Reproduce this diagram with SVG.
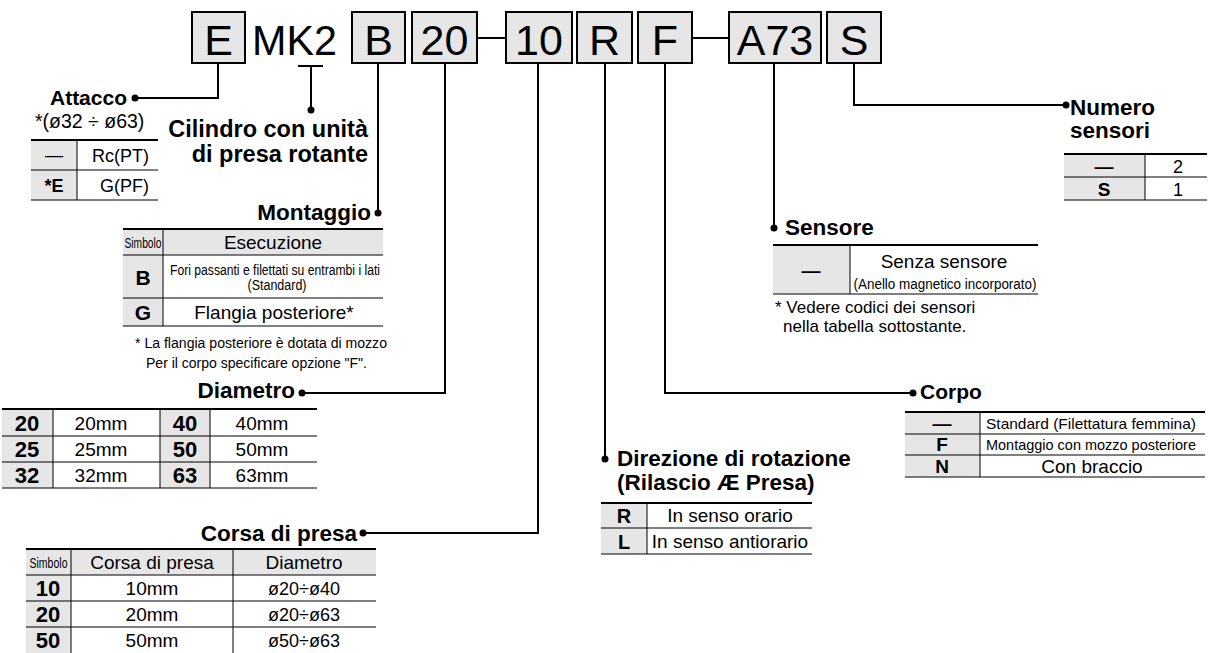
<svg xmlns="http://www.w3.org/2000/svg" width="1209" height="653" viewBox="0 0 1209 653">
<style>
text{font-family:"Liberation Sans",Arial,sans-serif;fill:#000}
.hb{fill:#e6e6e6;stroke:#000;stroke-width:2}
.ht{font-size:43px;text-anchor:middle}
.lab{font-size:22.5px;font-weight:bold}
.ttl{font-size:23.5px;font-weight:bold}
.g{fill:#e6e6e6}
.l1{stroke:#000;stroke-width:1;fill:none}
.l2{stroke:#000;stroke-width:2;fill:none}
.c{text-anchor:middle}
.e{text-anchor:end}
.b{font-weight:bold;font-size:21px;text-anchor:middle}
.t19{font-size:19px}
.t18{font-size:18px}
.t17{font-size:17px}
.t14{font-size:14px}
.t13{font-size:13px}
.t11{font-size:11px}
.con{stroke:#000;stroke-width:2;fill:none}
.dot{fill:#000}
</style>

<g id="header">
  <rect class="hb" x="192" y="12" width="53" height="51"/><text class="ht" x="218.5" y="55">E</text>
  <text class="ht" x="294.5" y="55" textLength="85" lengthAdjust="spacingAndGlyphs">MK2</text>
  <rect class="hb" x="352" y="12" width="53" height="51"/><text class="ht" x="378.5" y="55">B</text>
  <rect class="hb" x="412" y="12" width="65" height="51"/><text class="ht" x="444.5" y="55">20</text>
  <rect class="hb" x="506" y="12" width="66" height="51"/><text class="ht" x="539" y="55">10</text>
  <rect class="hb" x="577" y="12" width="55" height="51"/><text class="ht" x="604.5" y="55">R</text>
  <rect class="hb" x="638" y="12" width="54" height="51"/><text class="ht" x="665" y="55">F</text>
  <rect class="hb" x="729" y="12" width="92" height="51"/><text class="ht" x="775" y="55">A73</text>
  <rect class="hb" x="827" y="12" width="54" height="51"/><text class="ht" x="854" y="55">S</text>
</g>

<g id="connectors">
  <line class="con" x1="477" y1="38" x2="506" y2="38"/>
  <line class="con" x1="692" y1="38" x2="729" y2="38"/>
  <polyline class="con" points="218,63 218,98 135,98"/>
  <circle class="dot" cx="135" cy="98" r="3.5"/>
  <line class="con" x1="298" y1="66" x2="323" y2="66"/>
  <line class="con" x1="311" y1="66" x2="311" y2="110"/>
  <circle class="dot" cx="311" cy="110" r="3.5"/>
  <line class="con" x1="378" y1="63" x2="378" y2="213"/>
  <circle class="dot" cx="378" cy="213" r="3.5"/>
  <polyline class="con" points="445,63 445,393 302,393"/>
  <circle class="dot" cx="302" cy="393" r="3.5"/>
  <polyline class="con" points="538,63 538,533 363,533"/>
  <circle class="dot" cx="363" cy="533" r="3.5"/>
  <line class="con" x1="605" y1="63" x2="605" y2="459"/>
  <circle class="dot" cx="605" cy="459" r="3.5"/>
  <polyline class="con" points="665,63 665,393 913,393"/>
  <circle class="dot" cx="913" cy="393" r="3.5"/>
  <line class="con" x1="774" y1="63" x2="774" y2="228"/>
  <circle class="dot" cx="774" cy="228" r="3.5"/>
  <polyline class="con" points="854,63 854,105 1066,105"/>
  <circle class="dot" cx="1066" cy="105" r="3.5"/>
</g>

<g id="attacco">
  <text class="lab e" x="127" y="105" style="font-size:21px">Attacco</text>
  <text class="t19" x="35" y="128" style="font-size:19.5px">*(ø32 ÷ ø63)</text>
  <rect class="g" x="31" y="140" width="46" height="60"/>
  <line class="l2" x1="31" y1="140" x2="158" y2="140"/>
  <line class="l1" x1="31" y1="170" x2="158" y2="170"/>
  <line class="l1" x1="31" y1="200" x2="158" y2="200"/>
  <line class="l1" x1="77" y1="140" x2="77" y2="200"/>
  <text class="t18 c" x="54" y="161">—</text>
  <text class="t18 e" x="149" y="162">Rc(PT)</text>
  <text class="b" x="54" y="192" style="font-size:18px">*E</text>
  <text class="t18 e" x="149" y="192">G(PF)</text>
</g>

<g id="cilindro">
  <text class="ttl e" x="368" y="137">Cilindro con unità</text>
  <text class="ttl e" x="368" y="162">di presa rotante</text>
</g>

<g id="montaggio">
  <text class="lab e" x="371" y="220">Montaggio</text>
  <rect class="g" x="123" y="229" width="260" height="26"/>
  <rect class="g" x="123" y="255" width="40" height="71"/>
  <line class="l2" x1="123" y1="229" x2="383" y2="229"/>
  <line class="l1" x1="123" y1="255" x2="383" y2="255"/>
  <line class="l1" x1="123" y1="298" x2="383" y2="298"/>
  <line class="l1" x1="123" y1="326" x2="383" y2="326"/>
  <line class="l1" x1="163" y1="229" x2="163" y2="326"/>
  <text class="t14 c" x="143" y="248" textLength="37" lengthAdjust="spacingAndGlyphs">Simbolo</text>
  <text class="t19 c" x="273" y="249">Esecuzione</text>
  <text class="b" x="143" y="285">B</text>
  <text class="t14 c" x="275" y="275" textLength="210" lengthAdjust="spacingAndGlyphs">Fori passanti e filettati su entrambi i lati</text>
  <text class="t14 c" x="277" y="290" textLength="59" lengthAdjust="spacingAndGlyphs">(Standard)</text>
  <text class="b" x="143" y="320">G</text>
  <text class="t19 c" x="274" y="319">Flangia posteriore*</text>
  <text class="t14" x="135" y="348" textLength="252" lengthAdjust="spacingAndGlyphs">* La flangia posteriore è dotata di mozzo</text>
  <text class="t14" x="146" y="368" textLength="221" lengthAdjust="spacingAndGlyphs">Per il corpo specificare opzione "F".</text>
</g>

<g id="diametro">
  <text class="lab e" x="295" y="398">Diametro</text>
  <rect class="g" x="2" y="409" width="51" height="79"/>
  <rect class="g" x="160" y="409" width="50" height="79"/>
  <line class="l2" x1="2" y1="409" x2="317" y2="409"/>
  <line class="l1" x1="2" y1="436" x2="317" y2="436"/>
  <line class="l1" x1="2" y1="462" x2="317" y2="462"/>
  <line class="l1" x1="2" y1="488" x2="317" y2="488"/>
  <line class="l1" x1="53" y1="409" x2="53" y2="488"/>
  <line class="l1" x1="160" y1="409" x2="160" y2="488"/>
  <line class="l1" x1="210" y1="409" x2="210" y2="488"/>
  <text class="b" x="27" y="431" style="font-size:22px">20</text><text class="t19 c" x="101" y="430">20mm</text>
  <text class="b" x="185" y="431" style="font-size:22px">40</text><text class="t19 c" x="262" y="430">40mm</text>
  <text class="b" x="27" y="457" style="font-size:22px">25</text><text class="t19 c" x="101" y="456">25mm</text>
  <text class="b" x="185" y="457" style="font-size:22px">50</text><text class="t19 c" x="262" y="456">50mm</text>
  <text class="b" x="27" y="483" style="font-size:22px">32</text><text class="t19 c" x="101" y="482">32mm</text>
  <text class="b" x="185" y="483" style="font-size:22px">63</text><text class="t19 c" x="262" y="482">63mm</text>
</g>

<g id="corsa">
  <text class="lab e" x="357" y="541">Corsa di presa</text>
  <rect class="g" x="26" y="549" width="350" height="26"/>
  <rect class="g" x="26" y="575" width="45" height="78"/>
  <line class="l2" x1="26" y1="549" x2="376" y2="549"/>
  <line class="l1" x1="26" y1="575" x2="376" y2="575"/>
  <line class="l1" x1="26" y1="601" x2="376" y2="601"/>
  <line class="l1" x1="26" y1="627" x2="376" y2="627"/>
  <line class="l1" x1="71" y1="549" x2="71" y2="653"/>
  <line class="l1" x1="233" y1="549" x2="233" y2="653"/>
  <text class="t14 c" x="48.5" y="568" textLength="38" lengthAdjust="spacingAndGlyphs">Simbolo</text>
  <text class="t19 c" x="152" y="569">Corsa di presa</text>
  <text class="t19 c" x="304" y="569">Diametro</text>
  <text class="b" x="48" y="596" style="font-size:22px">10</text><text class="t19 c" x="152" y="595">10mm</text><text class="t18 c" x="304" y="595">ø20÷ø40</text>
  <text class="b" x="48" y="622" style="font-size:22px">20</text><text class="t19 c" x="152" y="621">20mm</text><text class="t18 c" x="304" y="621">ø20÷ø63</text>
  <text class="b" x="48" y="648" style="font-size:22px">50</text><text class="t19 c" x="152" y="647">50mm</text><text class="t18 c" x="304" y="647">ø50÷ø63</text>
</g>

<g id="direzione">
  <text class="lab" x="617" y="466">Direzione di rotazione</text>
  <text class="lab" x="617" y="490">(Rilascio Æ Presa)</text>
  <rect class="g" x="601" y="503" width="46" height="51"/>
  <line class="l2" x1="601" y1="503" x2="812" y2="503"/>
  <line class="l1" x1="601" y1="528" x2="812" y2="528"/>
  <line class="l1" x1="601" y1="554" x2="812" y2="554"/>
  <line class="l1" x1="647" y1="503" x2="647" y2="554"/>
  <text class="b" x="624" y="523" style="font-size:20px">R</text>
  <text class="t19 c" x="730" y="522">In senso orario</text>
  <text class="b" x="624" y="549" style="font-size:20px">L</text>
  <text class="t19 c" x="730" y="548">In senso antiorario</text>
</g>

<g id="sensore">
  <text class="lab" x="785" y="235">Sensore</text>
  <rect class="g" x="773" y="245" width="77" height="49"/>
  <line class="l2" x1="773" y1="245" x2="1038" y2="245"/>
  <line class="l1" x1="773" y1="294" x2="1038" y2="294"/>
  <line class="l1" x1="850" y1="245" x2="850" y2="294"/>
  <text class="b" x="811" y="277" style="font-size:19px">—</text>
  <text class="t19 c" x="944" y="268">Senza sensore</text>
  <text class="t14 c" x="945" y="289" textLength="183" lengthAdjust="spacingAndGlyphs">(Anello magnetico incorporato)</text>
  <text class="t17" x="775" y="313">* Vedere codici dei sensori</text>
  <text class="t17" x="783" y="332">nella tabella sottostante.</text>
</g>

<g id="corpo">
  <text class="lab" x="920" y="399" style="font-size:21px">Corpo</text>
  <rect class="g" x="905" y="412" width="75" height="65"/>
  <line class="l2" x1="905" y1="412" x2="1205" y2="412"/>
  <line class="l1" x1="905" y1="434" x2="1205" y2="434"/>
  <line class="l1" x1="905" y1="455" x2="1205" y2="455"/>
  <line class="l1" x1="905" y1="477" x2="1205" y2="477"/>
  <line class="l1" x1="980" y1="412" x2="980" y2="477"/>
  <text class="b" x="942" y="430" style="font-size:19px">—</text>
  <text x="986" y="429" style="font-size:14.5px" textLength="210" lengthAdjust="spacingAndGlyphs">Standard (Filettatura femmina)</text>
  <text class="b" x="942" y="451" style="font-size:19px">F</text>
  <text x="986" y="450" style="font-size:14.5px" textLength="210" lengthAdjust="spacingAndGlyphs">Montaggio con mozzo posteriore</text>
  <text class="b" x="942" y="473" style="font-size:19px">N</text>
  <text class="t19 c" x="1092" y="473">Con braccio</text>
</g>

<g id="numero">
  <text class="lab" x="1070" y="115">Numero</text>
  <text class="lab" x="1070" y="138">sensori</text>
  <rect class="g" x="1064" y="154" width="81" height="46"/>
  <line class="l2" x1="1064" y1="154" x2="1207" y2="154"/>
  <line class="l1" x1="1064" y1="177" x2="1207" y2="177"/>
  <line class="l1" x1="1064" y1="200" x2="1207" y2="200"/>
  <line class="l1" x1="1145" y1="154" x2="1145" y2="200"/>
  <text class="b" x="1104" y="173" style="font-size:19px">—</text>
  <text class="t18 c" x="1178" y="173">2</text>
  <text class="b" x="1104" y="196" style="font-size:19px">S</text>
  <text class="t18 c" x="1178" y="196">1</text>
</g>
</svg>
